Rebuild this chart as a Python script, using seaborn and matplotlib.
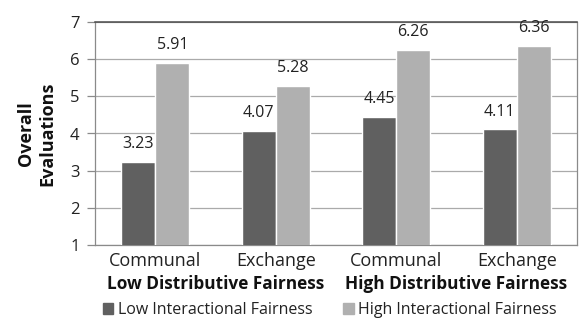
import matplotlib
matplotlib.use("Agg")
import matplotlib.pyplot as plt
import seaborn as sns
import pandas as pd

conditions = ["Low-Communal", "Low-Exchange", "High-Communal", "High-Exchange"]
tick_labels = ["Communal", "Exchange", "Communal", "Exchange"]
group_labels = ["Low Distributive Fairness", "High Distributive Fairness"]
series_names = ["Low Interactional Fairness", "High Interactional Fairness"]
low_vals = [3.23, 4.07, 4.45, 4.11]
high_vals = [5.91, 5.28, 6.26, 6.36]
y_ticks = [1, 2, 3, 4, 5, 6, 7]

df = pd.DataFrame({
    "cond": conditions * 2,
    "series": [series_names[0]] * 4 + [series_names[1]] * 4,
    "value": low_vals + high_vals,
})

sns.set_theme(style="white")
plt.rcParams["font.family"] = ["Open Sans", "DejaVu Sans"]

fig = plt.figure(figsize=(5.81, 3.21), dpi=100)
ax = fig.add_axes([95 / 581, 1 - 245 / 321, 482 / 581, 223 / 321])

palette = {series_names[0]: "#606060", series_names[1]: "#b0b0b0"}
sns.barplot(data=df, x="cond", y="value", hue="series", order=conditions,
            hue_order=series_names, palette=palette, width=0.565,
            saturation=1, ax=ax, legend=False, zorder=3)

ax.set_ylim(1, 7)
ax.set_yticks(y_ticks)
ax.set_yticklabels([str(t) for t in y_ticks], fontsize=12, color="#222222")
ax.set_xticks(range(4))
ax.set_xticklabels(tick_labels, fontsize=13, color="#222222")
ax.tick_params(axis="x", length=0, pad=5)
ax.tick_params(axis="y", length=6, width=0.9, color="#8a8a8a", pad=5,
               direction="out", left=True)
ax.set_xlabel("")
ax.set_ylabel("Overall\nEvaluations", fontsize=13, fontweight="bold",
              linespacing=1.25, labelpad=10, color="#111111")
ax.grid(axis="y", color="#aaaaaa", linewidth=0.9, zorder=0)
ax.set_axisbelow(True)
for side in ["left", "right", "top", "bottom"]:
    ax.spines[side].set_color("#8a8a8a")
    ax.spines[side].set_linewidth(0.9)
ax.spines["top"].set_color("#4a4a4a")
ax.spines["top"].set_linewidth(1.1)

for container in ax.containers:
    ax.bar_label(container, labels=[f"{v:.2f}" for v in container.datavalues],
                 padding=7, fontsize=11.5, color="#222222")

for i, g in enumerate(group_labels):
    ax.text(0.5 + 2 * i, -(284 - 245) / 223, g, transform=ax.get_xaxis_transform(),
            ha="center", va="center", fontsize=12.4, fontweight="bold",
            color="#111111")

handles = [plt.Rectangle((0, 0), 1, 1, color=palette[s]) for s in series_names]
fig.legend(handles, series_names, loc="center", bbox_to_anchor=(0.568, 1 - 310 / 321),
           ncol=2, frameon=False, fontsize=11.5, handlelength=0.65,
           handleheight=0.65, handletextpad=0.3, columnspacing=1.9,
           labelcolor="#222222")

fig.savefig("out.png", dpi=100)
